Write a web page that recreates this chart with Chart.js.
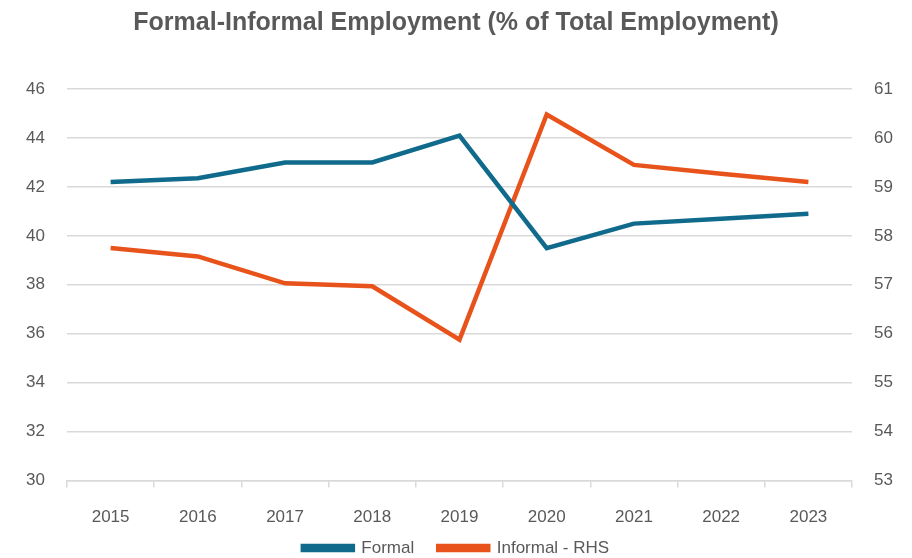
<!DOCTYPE html>
<html>
<head>
<meta charset="utf-8">
<script src="https://cdn.jsdelivr.net/npm/chart.js@4"></script>
<style>
  html, body { margin: 0; padding: 0; background: #fff; }
  #wrap { width: 912px; height: 558px; }
</style>
</head>
<body>
<div id="wrap"><canvas id="myChart" width="912" height="558"></canvas></div>
<script>
var years = ['2015', '2016', '2017', '2018', '2019', '2020', '2021', '2022', '2023']
var formal = [42.2, 42.35, 43.0, 43.0, 44.1, 39.5, 40.5, 40.7, 40.9]
var informal = [57.75, 57.58, 57.03, 56.97, 55.88, 60.48, 59.45, 59.27, 59.1]

var leftTicks = [30, 46, 2]
var rightTicks = [53, 61, 1]

var grey = '#595959'
var gridGrey = '#d9d9d9'
var fontName = "'Liberation Sans', Arial, sans-serif"

// legend items need wide horizontal gaps but sit close under the axis,
// so place the legend box by hand after layout
var legendLift = {
  id: 'legendLift',
  afterLayout: function (chart) {
    if (chart.legend) {
      chart.legend.top = 548 - 24 - 8.5
    }
  }
}

const ctx = document.getElementById('myChart')

new Chart(ctx, {
  type: 'line',
  data: {
    labels: years,
    datasets: [{
      label: 'Formal',
      data: formal,
      yAxisID: 'y',
      borderColor: '#106a8b',
      backgroundColor: '#106a8b',
      borderWidth: 4.5,
      pointRadius: 0,
      tension: 0
    },
    {
      label: 'Informal - RHS',
      data: informal,
      yAxisID: 'y1',
      borderColor: '#e8531c',
      backgroundColor: '#e8531c',
      borderWidth: 4.5,
      pointRadius: 0,
      tension: 0
    }]
  },
  options: {
    responsive: false,
    animation: false,
    layout: { padding: 0 },
    plugins: {
      title: {
        display: true,
        text: 'Formal-Informal Employment (% of Total Employment)',
        color: grey,
        font: { family: fontName, size: 25, weight: 'bold' },
        padding: { top: 8, bottom: 51 }
      },
      legend: {
        position: 'bottom',
        maxHeight: 10,
        labels: {
          color: grey,
          boxWidth: 50,
          boxHeight: 4,
          padding: 24,
          font: { family: fontName, size: 17 }
        }
      },
      tooltip: { enabled: false }
    },
    scales: {
      x: {
        offset: true,
        grid: {
          offset: true,
          drawOnChartArea: false,
          drawTicks: true,
          tickLength: 7,
          color: gridGrey,
          lineWidth: 1.5
        },
        border: { color: gridGrey, width: 1.5 },
        ticks: { color: grey, padding: 20, font: { family: fontName, size: 17 } }
      },
      y: {
        position: 'left',
        min: leftTicks[0],
        max: leftTicks[1],
        ticks: { stepSize: leftTicks[2], color: grey, padding: 22, font: { family: fontName, size: 17 } },
        grid: { color: gridGrey, lineWidth: 1.5, drawTicks: false },
        border: { display: false },
        afterFit: function (scale) { scale.width = 67 }
      },
      y1: {
        position: 'right',
        min: rightTicks[0],
        max: rightTicks[1],
        ticks: { stepSize: rightTicks[2], color: grey, padding: 22, font: { family: fontName, size: 17 } },
        grid: { drawOnChartArea: false, drawTicks: false },
        border: { display: false },
        afterFit: function (scale) { scale.width = 60 }
      }
    }
  },
  plugins: [legendLift]
})
</script>
</body>
</html>
